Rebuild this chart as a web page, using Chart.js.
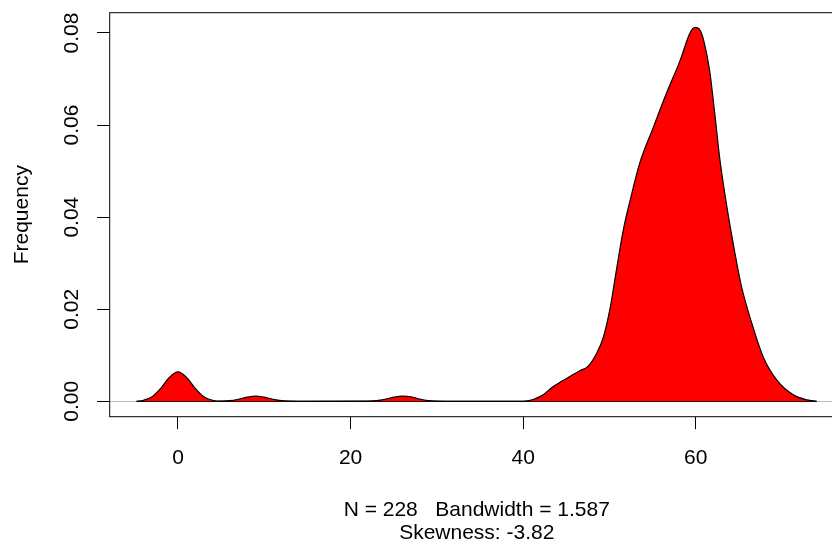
<!DOCTYPE html>
<html>
<head>
<meta charset="utf-8">
<script src="https://cdn.jsdelivr.net/npm/chart.js@4/dist/chart.umd.min.js"></script>
<style>
  html, body { margin: 0; padding: 0; background: #fff; overflow: hidden; }
  #wrap { width: 860px; height: 541px; }
</style>
</head>
<body>
<div id="wrap"><canvas id="densityChart" width="860" height="541"></canvas></div>
<script>
// density curve (x value, density)
const densityX = [-4.8, -4, -3, -2, -1, 0, 1, 2, 3, 4, 5, 6, 7, 8, 9, 10, 11, 12, 13, 14,
  22, 23, 24, 25, 26, 27, 28, 29, 30, 31,
  40, 40.5, 41.3, 42.3, 43.4, 44.5, 45.5, 46.5, 47.5, 48.5, 49.3, 50.1, 50.8, 51.6, 52.4,
  53.5, 55.1, 56.6, 58.2, 59.3, 59.9, 60.5, 60.9, 61.6, 62.2, 62.8, 63.6, 64.4, 65.3,
  66.5, 67.8, 69.4, 71.3, 72.9, 74.0];
const densityY = [0, 0.00023, 0.001, 0.0028, 0.0052, 0.0064, 0.0052, 0.0028, 0.001, 0.00023, 0.00004, 0.00014, 0.00045, 0.0009, 0.00115, 0.0009, 0.00045, 0.00014, 0.00003, 0,
  0.00003, 0.00014, 0.00045, 0.0009, 0.00115, 0.001, 0.0005, 0.00016, 0.00003, 0,
  0, 0.0001, 0.0005, 0.0014, 0.0031, 0.0044, 0.0055, 0.0066, 0.0076, 0.0104, 0.014, 0.0205, 0.0285, 0.0372, 0.0437,
  0.0517, 0.0596, 0.0669, 0.0741, 0.0799, 0.0812, 0.0806, 0.0785, 0.0719, 0.0625, 0.0524, 0.0423, 0.0336, 0.0249,
  0.0169, 0.0097, 0.0046, 0.0014, 0.0003, 0];

const xTicks = [0, 20, 40, 60];
const yTicks = [0, 0.02, 0.04, 0.06, 0.08];
const xRange = [-7.91, 77.15];
const yRange = [-0.00334, 0.0844];

const yTitle = 'Frequency';
const xTitle = ['N = 228   Bandwidth = 1.587', 'Skewness: -3.82'];

const FONT = { family: "'Liberation Sans', Arial, sans-serif", size: 21 };
const TITLE_FONT = { family: "'Liberation Sans', Arial, sans-serif", size: 21, lineHeight: 1.12 };

// box around the plot region, like R's box()
const frame = {
  id: 'frame',
  afterDraw(chart) {
    const a = chart.chartArea;
    const ctx = chart.ctx;
    ctx.save();
    ctx.strokeStyle = '#000';
    ctx.lineWidth = 1;
    ctx.strokeRect(a.left, a.top, a.right - a.left, a.bottom - a.top);
    ctx.restore();
  }
};

// keep the plot region fixed, no extra room for tick labels
const noPad = s => {
  s.paddingTop = 0;
  s.paddingBottom = 0;
  s.paddingLeft = 0;
  s.paddingRight = 0;
};

Chart.defaults.color = '#000';
Chart.defaults.font.family = FONT.family;

new Chart(document.getElementById('densityChart'), {
  type: 'line',
  data: {
    datasets: [
      {
        data: densityX.map((x, i) => ({ x: x, y: densityY[i] })),
        borderColor: '#000',
        borderWidth: 1.2,
        backgroundColor: '#ff0000',
        fill: 'origin',
        pointRadius: 0,
        cubicInterpolationMode: 'monotone'
      },
      {
        // closing edge of the polygon along zero
        data: [{ x: densityX[0], y: 0 }, { x: densityX[densityX.length - 1], y: 0 }],
        borderColor: '#000',
        borderWidth: 1.2,
        pointRadius: 0,
        fill: false
      }
    ]
  },
  options: {
    responsive: false,
    animation: false,
    layout: { padding: { top: 12.7, right: 16.2, left: 0, bottom: 0 } },
    plugins: { legend: { display: false }, tooltip: { enabled: false } },
    scales: {
      x: {
        type: 'linear',
        min: xRange[0],
        max: xRange[1],
        afterBuildTicks: s => { s.ticks = xTicks.map(v => ({ value: v })); },
        afterFit: s => { s.height = 124.3; noPad(s); },
        border: { display: false },
        grid: { drawOnChartArea: false, drawTicks: true, tickLength: 12.5, tickColor: '#000', tickWidth: 1 },
        ticks: { font: FONT, padding: 16, maxRotation: 0, callback: v => String(v) },
        title: { display: true, text: xTitle, font: TITLE_FONT, padding: { top: 0, bottom: -4 } }
      },
      y: {
        type: 'linear',
        min: yRange[0],
        max: yRange[1],
        afterBuildTicks: s => { s.ticks = yTicks.map(v => ({ value: v })); },
        afterFit: s => { s.width = 109.7; noPad(s); },
        border: { display: false },
        grid: {
          drawOnChartArea: true,
          drawTicks: true,
          tickLength: 12.7,
          tickColor: '#000',
          color: ctx => (ctx.tick && ctx.tick.value === 0 ? '#bebebe' : 'rgba(0,0,0,0)')
        },
        ticks: {
          font: FONT,
          minRotation: 90,
          maxRotation: 90,
          crossAlign: 'center',
          padding: 4,
          callback: v => v.toFixed(2)
        },
        title: { display: true, text: yTitle, font: FONT, padding: { top: 10, bottom: 0 } }
      }
    }
  },
  plugins: [frame]
});
</script>
</body>
</html>
